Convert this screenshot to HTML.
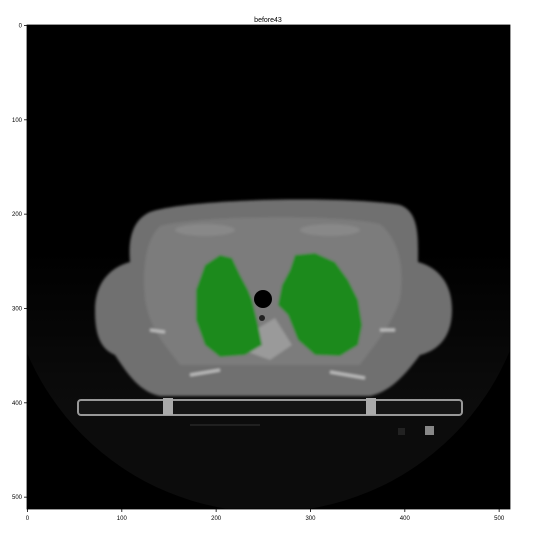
<!DOCTYPE html>
<html><head><meta charset="utf-8"><style>
html,body{margin:0;padding:0;background:#fff;width:537px;height:537px;overflow:hidden}
text{font-family:"Liberation Sans",sans-serif}
</style></head><body>
<svg id="chart" width="537" height="537" viewBox="0 0 537 537" xmlns="http://www.w3.org/2000/svg">
<text x="268" y="22" font-size="7" text-anchor="middle">before43</text>
<defs><clipPath id="ax"><rect x="27" y="25" width="483" height="484"/></clipPath>
<linearGradient id="fg" x1="0" y1="0" x2="0" y2="1">
<stop offset="0.5" stop-color="#0c0c0c" stop-opacity="0"/>
<stop offset="0.8" stop-color="#0c0c0c" stop-opacity="1"/>
</linearGradient>
<filter id="bl"><feGaussianBlur stdDeviation="1.2"/></filter></defs>
<g clip-path="url(#ax)">
<rect x="27" y="25" width="483" height="484" fill="#000"/>
<circle cx="268" cy="250" r="262" fill="url(#fg)"/>
<g filter="url(#bl)">
<path d="M150,212 C190,198 350,196 400,205 C420,212 418,240 418,262 C440,268 452,285 452,310 C452,335 440,350 420,355 C405,375 390,392 370,396 L160,396 C140,392 128,375 115,355 C98,348 95,330 95,310 C95,285 108,268 130,262 C128,240 132,220 150,212 Z" fill="#6f6f6f"/>
<path d="M160,226 C200,215 340,214 380,224 C400,240 405,270 400,300 C390,330 370,350 360,365 L180,365 C165,345 150,330 145,300 C142,270 145,240 160,226Z" fill="#7c7c7c"/>
<ellipse cx="205" cy="230" rx="30" ry="6" fill="#888"/>
<ellipse cx="330" cy="230" rx="30" ry="6" fill="#888"/>
<path d="M255,330 L275,318 L292,345 L270,360 L248,352 Z" fill="#9a9a9a"/>
<path d="M150,330 L165,332 M380,330 L395,330 M190,375 L220,370 M330,372 L365,378" stroke="#bbb" stroke-width="3"/>
<path d="M220,255 L232,258 L240,275 L248,290 L252,300 L258,325 L262,345 L245,355 L220,357 L205,345 L196,320 L196,290 L205,265 Z" fill="#1a8a1a"/>
<path d="M295,255 L315,253 L335,262 L348,280 L358,300 L362,325 L358,345 L340,356 L315,355 L298,340 L288,315 L278,305 L282,285 L290,270 Z" fill="#1a8a1a"/>
</g>
<circle cx="263" cy="299" r="9" fill="#000"/>
<circle cx="262" cy="318" r="3" fill="#222"/>
<rect x="78" y="400" width="384" height="15" rx="3" fill="#151515" stroke="#999" stroke-width="2"/>
<rect x="163" y="398" width="10" height="17" fill="#aaa"/>
<rect x="366" y="398" width="10" height="17" fill="#aaa"/>
<line x1="190" y1="425" x2="260" y2="425" stroke="#333" stroke-width="1"/>
<rect x="425" y="426" width="9" height="9" fill="#888"/>
<rect x="398" y="428" width="7" height="7" fill="#222"/>
</g>
<rect x="27" y="25" width="483" height="484" fill="none" stroke="#000" stroke-width="0.8"/>
<g id="axes"></g>
</svg>
<script>
const xTicks=[0,100,200,300,400,500];
const yTicks=[0,100,200,300,400,500];
const x0=27,y0=25,s=483/512;
const g=document.getElementById('axes');
const ns='http://www.w3.org/2000/svg';
function mk(t,a){const e=document.createElementNS(ns,t);for(const k in a)e.setAttribute(k,a[k]);g.appendChild(e);return e;}
xTicks.forEach(v=>{const x=x0+(v+0.5)*s;
const l=mk('line',{x1:x,x2:x,y1:509,y2:512,stroke:'#000','stroke-width':0.8});


const t=mk('text',{x:x,y:520,'font-size':6,'text-anchor':'middle'});t.textContent=v;

});
yTicks.forEach(v=>{const y=y0+(v+0.5)*s;
const l=mk('line',{x1:24,x2:27,y1:y,y2:y,stroke:'#000','stroke-width':0.8});


const t=mk('text',{x:22,y:y+2,'font-size':6,'text-anchor':'end'});t.textContent=v;

});
</script>
</body></html>
